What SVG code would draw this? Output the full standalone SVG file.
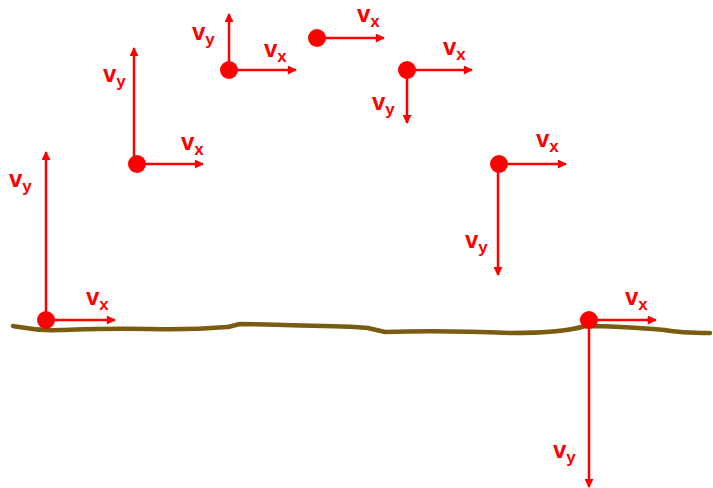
<svg xmlns="http://www.w3.org/2000/svg" width="713" height="488" viewBox="0 0 713 488">
<defs>
<marker id="ah" viewBox="0 0 10 10" refX="9" refY="5" markerWidth="10" markerHeight="9" markerUnits="userSpaceOnUse" orient="auto">
<path d="M0,0 L10,5 L0,10 Z" fill="#f00"/>
</marker>
<style>
.v{stroke:#f00;stroke-width:2.5;fill:none;marker-end:url(#ah)}
.d{fill:#f00}
.l{font-family:"Liberation Sans",Arial,sans-serif;font-weight:bold;font-size:24px;fill:#f00}
.s{font-size:17px}
.g{fill:none;stroke:#7a5c10;stroke-width:4.5;stroke-linejoin:round;stroke-linecap:round}
</style>
</defs>
<rect width="713" height="488" fill="#fff"/>
<path id="ground" class="g" d="M13,326 C25,328 35,331 60,330 C90,329 110,328 150,329 C190,330 215,328 228,327 L240,324 C270,324 320,326 355,327 L368,328 L385,332 C420,331 460,331 510,333 C545,333 570,331 585,326 C610,326 640,328 665,330 C680,333 695,333 710,333"/>
<g id="connectors">
<line class="v" x1="46" y1="320" x2="46" y2="152"/>
<line class="v" x1="46" y1="320" x2="115" y2="320"/>
<line class="v" x1="134" y1="164" x2="134" y2="48"/>
<line class="v" x1="137" y1="164" x2="203" y2="164"/>
<line class="v" x1="229" y1="70" x2="229" y2="14"/>
<line class="v" x1="229" y1="70" x2="296" y2="70"/>
<line class="v" x1="317" y1="38" x2="384" y2="38"/>
<line class="v" x1="407" y1="70" x2="472" y2="70"/>
<line class="v" x1="407" y1="70" x2="407" y2="123"/>
<line class="v" x1="499" y1="164" x2="566" y2="164"/>
<line class="v" x1="498" y1="164" x2="498" y2="275"/>
<line class="v" x1="589" y1="320" x2="656" y2="320"/>
<line class="v" x1="589" y1="320" x2="589" y2="487"/>
</g>
<g id="p1"><circle class="d" cx="46" cy="320" r="9"/>
<text class="l" x="9" y="187">v<tspan class="s" dy="5">y</tspan></text>
<text class="l" x="86" y="305">v<tspan class="s" dy="5">x</tspan></text></g>
<g id="p2"><circle class="d" cx="137" cy="164" r="9"/>
<text class="l" x="103" y="82">v<tspan class="s" dy="5">y</tspan></text>
<text class="l" x="181" y="150">v<tspan class="s" dy="5">x</tspan></text></g>
<g id="p3"><circle class="d" cx="229" cy="70" r="9"/>
<text class="l" x="192" y="40">v<tspan class="s" dy="5">y</tspan></text>
<text class="l" x="264" y="57">v<tspan class="s" dy="5">x</tspan></text></g>
<g id="p4"><circle class="d" cx="317" cy="38" r="9"/>
<text class="l" x="357" y="22">v<tspan class="s" dy="5">x</tspan></text></g>
<g id="p5"><circle class="d" cx="407" cy="70" r="9"/>
<text class="l" x="443" y="55">v<tspan class="s" dy="5">x</tspan></text>
<text class="l" x="372" y="110">v<tspan class="s" dy="5">y</tspan></text></g>
<g id="p6"><circle class="d" cx="499" cy="164" r="9"/>
<text class="l" x="536" y="147">v<tspan class="s" dy="5">x</tspan></text>
<text class="l" x="465" y="248">v<tspan class="s" dy="5">y</tspan></text></g>
<g id="p7"><circle class="d" cx="589" cy="320" r="9"/>
<text class="l" x="625" y="305">v<tspan class="s" dy="5">x</tspan></text>
<text class="l" x="553" y="458">v<tspan class="s" dy="5">y</tspan></text></g>
</svg>
